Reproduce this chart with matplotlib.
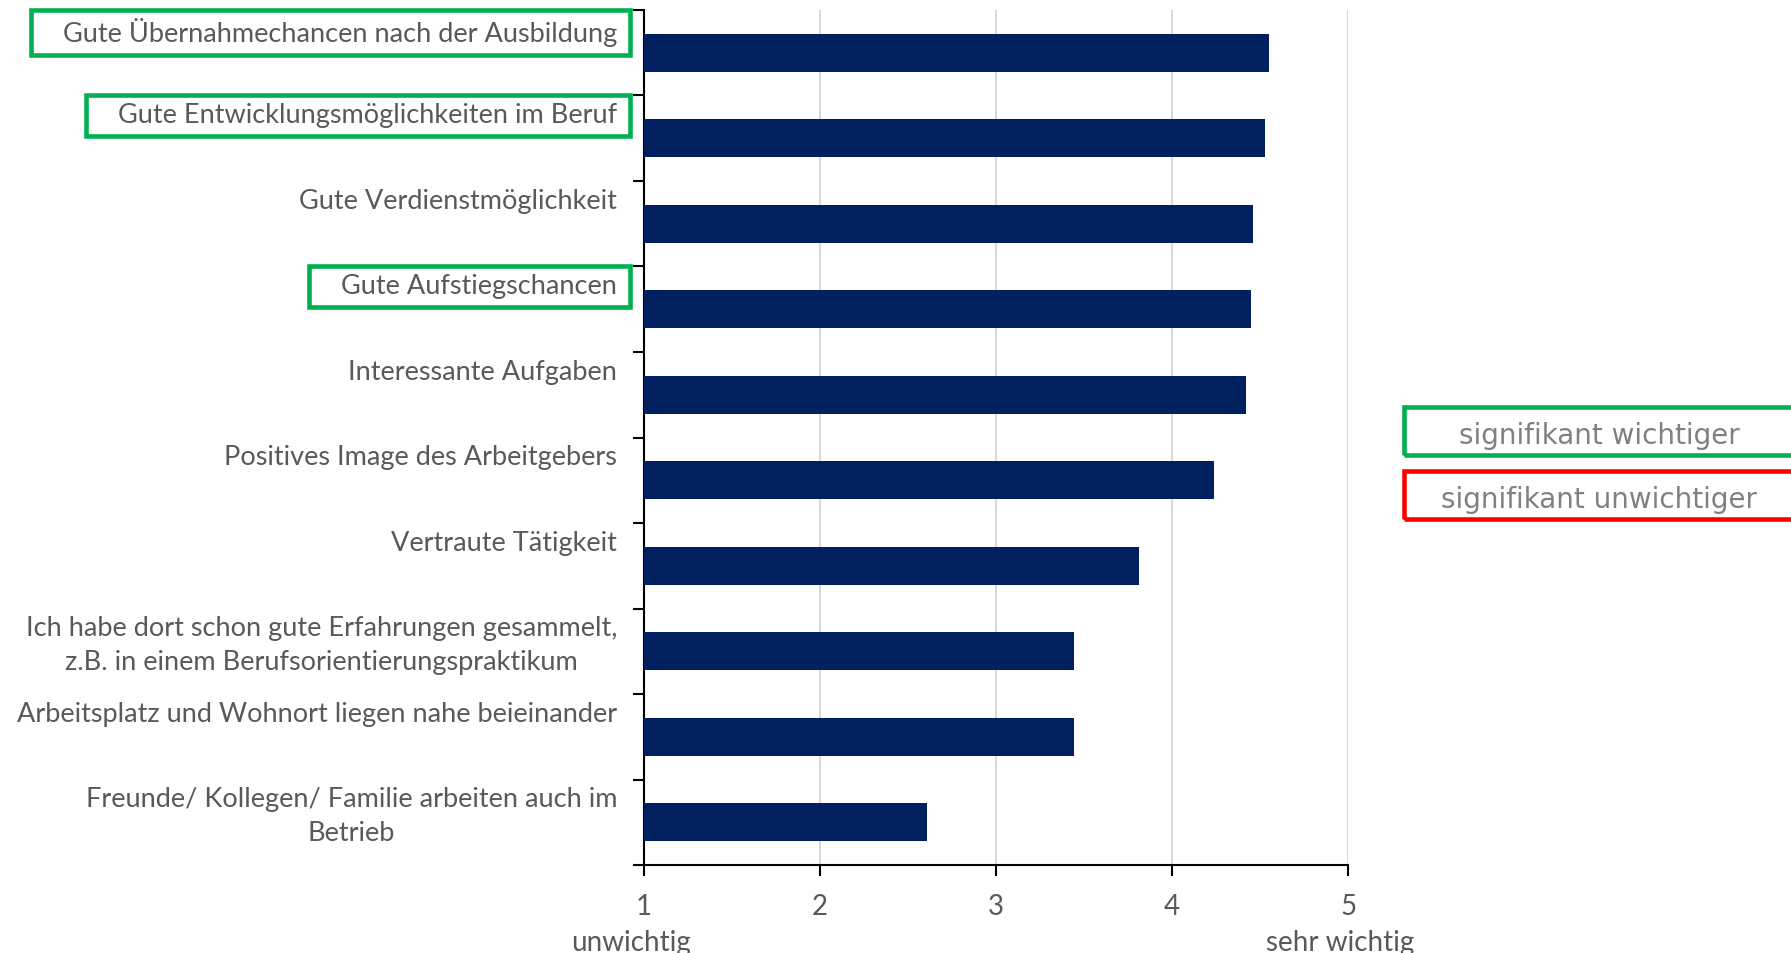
"""
Bar chart: Wichtigkeit von Aspekten bei der Wahl des Ausbildungsbetriebs
(Skala 1 = unwichtig bis 5 = sehr wichtig), mit markierten signifikanten Unterschieden.
"""

import matplotlib
matplotlib.use('Agg')
import matplotlib.pyplot as plt
from matplotlib.patches import Rectangle

labels = [
    'Gute Übernahmechancen nach der Ausbildung',
    'Gute Entwicklungsmöglichkeiten im Beruf',
    'Gute Verdienstmöglichkeit',
    'Gute Aufstiegschancen',
    'Interessante Aufgaben',
    'Positives Image des Arbeitgebers',
    'Vertraute Tätigkeit',
    'Ich habe dort schon gute Erfahrungen gesammelt,\nz.B. in einem Berufsorientierungspraktikum',
    'Arbeitsplatz und Wohnort liegen nahe beieinander',
    'Freunde/ Kollegen/ Familie arbeiten auch im\nBetrieb',
]
values = [4.55, 4.53, 4.46, 4.45, 4.42, 4.24, 3.81, 3.44, 3.44, 2.61]
# 'up' = signifikant wichtiger, 'down' = signifikant unwichtiger, None = n.s.
signif = ['up', 'up', None, 'up', None, None, None, None, None, None]

x_ticks = [1, 2, 3, 4, 5]
x_end_labels = ['unwichtig', 'sehr wichtig']
legend_labels = ['signifikant wichtiger', 'signifikant unwichtiger']

NAVY = '#002060'
GREEN = '#00B050'
RED = '#FF0000'
TEXT = '#595959'
LABEL_FONT = 'Lato'

fig = plt.figure(figsize=(17.91, 9.54), dpi=100)
ax = fig.add_axes([0.3596, 0.0922, 0.3931, 0.8963])

n = len(labels)
pos = [i + 0.5 for i in range(n)]
ax.barh(pos, [v - 1 for v in values], left=1, height=0.44, color=NAVY, zorder=3)

ax.set_xlim(1, 5)
ax.set_ylim(n, 0)
ax.set_xticks(x_ticks)
ax.set_xticklabels([str(t) for t in x_ticks], fontsize=20, color=TEXT, family=LABEL_FONT)
ax.set_yticks(range(n + 1))
ax.set_yticklabels([])
ax.tick_params(axis='x', direction='out', length=8, width=1.5, pad=12)
ax.tick_params(axis='y', direction='out', length=8, width=1.5)
ax.grid(axis='x', color='#d9d9d9', linewidth=1.5, zorder=0)
for side in ('top', 'right'):
    ax.spines[side].set_visible(False)
for side in ('left', 'bottom'):
    ax.spines[side].set_linewidth(1.5)
    ax.spines[side].set_color('black')

# category labels, top-aligned in their slot like the original
label_texts = []
for i, lab in enumerate(labels):
    t = ax.text(-0.038, i + 0.08, lab, transform=ax.get_yaxis_transform(),
                ha='right', va='top', multialignment='center',
                fontsize=19.5, color=TEXT, family=LABEL_FONT, linespacing=1.45)
    label_texts.append(t)

ax.text(-0.018, -0.09, x_end_labels[0], transform=ax.transAxes,
        ha='center', va='center', fontsize=20, color=TEXT, family=LABEL_FONT)
ax.text(0.988, -0.09, x_end_labels[1], transform=ax.transAxes,
        ha='center', va='center', fontsize=20, color=TEXT, family=LABEL_FONT)

# boxes round significant labels
fig.canvas.draw()
renderer = fig.canvas.get_renderer()
for t, s in zip(label_texts, signif):
    if s is None:
        continue
    bb = t.get_window_extent(renderer)
    x0, y0 = bb.x0 - 32, bb.y0 - 9
    w, h = bb.width + 45, bb.height + 16
    fig.patches.append(Rectangle((x0, y0), w, h, transform=None, fill=False,
                                 ec=GREEN if s == 'up' else RED, lw=3.3))

# legend boxes at the right, cut by the figure edge
W, H = fig.bbox.width, fig.bbox.height
for j, (txt, col) in enumerate(zip(legend_labels, [GREEN, RED])):
    yc = 1 - (432 + j * 64) / H
    fig.patches.append(Rectangle((1404 / W, yc - 24 / H), 420 / W, 48 / H,
                                 transform=fig.transFigure, fill=False,
                                 ec=col, lw=3.3))
    fig.text(1599 / W, yc - 4 / H, txt, ha='center', va='center', fontsize=20,
             color='#808080', family='DejaVu Sans')

fig.savefig('out.png', dpi=100)
